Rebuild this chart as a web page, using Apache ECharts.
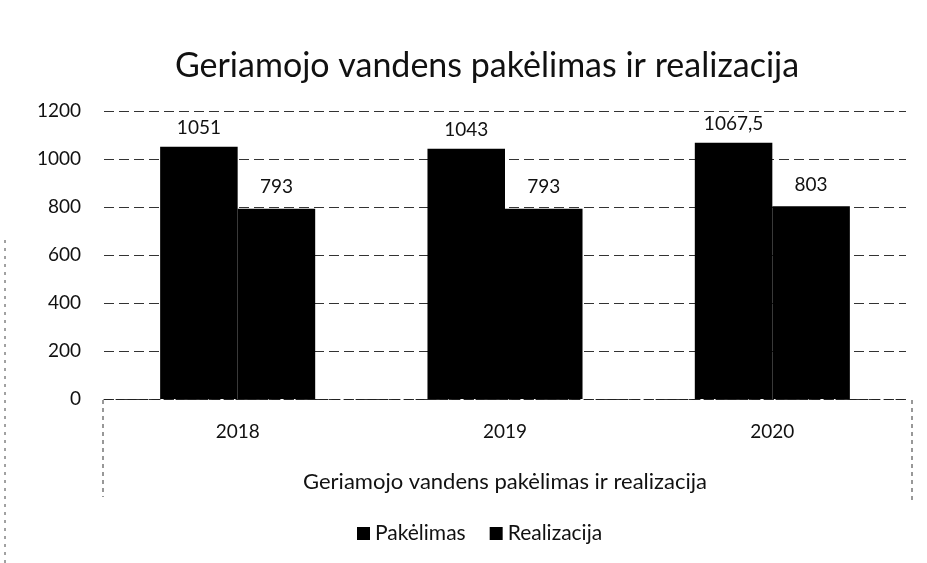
<!DOCTYPE html>
<html>
<head>
<meta charset="utf-8">
<script src="https://cdn.jsdelivr.net/npm/echarts@6/dist/echarts.min.js"></script>
<style>
  html, body { margin: 0; padding: 0; background: #fff; }
  #main { width: 927px; height: 563px; }
</style>
</head>
<body>
<div id="main"></div>
<script>
// 数据
var years = ['2018', '2019', '2020'];
var pakelimas = [1051, 1043, 1067.5];
var realizacija = [793, 793, 803];
var seriesNames = ['Pakėlimas', 'Realizacija'];

var FONT = 'Lato, "Open Sans", sans-serif';

// 标签：小数用逗号
function fmtLabel(p) {
  return String(p.value).replace('.', ',');
}

var myChart = echarts.init(document.getElementById('main'));
var option = {
  backgroundColor: '#fff',
  animation: false,
  title: {
    text: 'Geriamojo vandens pakėlimas ir realizacija',
    left: 482,
    textAlign: 'center',
    top: 44,
    textStyle: { fontFamily: FONT, fontSize: 34, fontWeight: 'normal', color: '#111' }
  },
  legend: {
    data: seriesNames,
    top: 518,
    left: 352,
    icon: 'rect',
    itemWidth: 13,
    itemHeight: 13,
    itemGap: 24,
    textStyle: { fontFamily: FONT, fontSize: 21, color: '#111' }
  },
  // 虚线框（扫描件里的边框）
  graphic: [
    { type: 'line', shape: { x1: 103, y1: 400, x2: 103, y2: 497 },
      style: { stroke: '#333', lineWidth: 1, lineDash: [4, 4] } },
    { type: 'line', shape: { x1: 912, y1: 400, x2: 912, y2: 500 },
      style: { stroke: '#333', lineWidth: 1, lineDash: [4, 4] } },
    { type: 'line', shape: { x1: 5, y1: 240, x2: 5, y2: 563 },
      style: { stroke: '#444', lineWidth: 1, lineDash: [3, 5] } }
  ],
  grid: { left: 104, right: 21, top: 111, bottom: 164 },
  xAxis: {
    type: 'category',
    data: years,
    name: 'Geriamojo vandens pakėlimas ir realizacija',
    nameLocation: 'middle',
    nameGap: 72,
    nameTextStyle: { fontFamily: FONT, fontSize: 22, color: '#111' },
    axisLine: { show: true, lineStyle: { color: '#222', type: [8, 4] } },
    axisTick: { show: false },
    axisLabel: { margin: 23, fontFamily: FONT, fontSize: 19, color: '#111' }
  },
  yAxis: {
    type: 'value',
    min: 0,
    max: 1200,
    interval: 200,
    axisLine: { show: false },
    axisTick: { show: false },
    axisLabel: { margin: 23, fontFamily: FONT, fontSize: 19, color: '#111',
                 formatter: function (v) { return String(v); } },
    splitLine: { lineStyle: { color: '#333', type: [10, 5] } }
  },
  series: [
    {
      name: seriesNames[0],
      type: 'bar',
      data: pakelimas,
      barGap: '0%',
      barCategoryGap: '42%',
      itemStyle: { color: '#000' },
      label: { show: true, position: 'top', distance: 9, formatter: fmtLabel,
               fontFamily: FONT, fontSize: 19, color: '#111' }
    },
    {
      name: seriesNames[1],
      type: 'bar',
      data: realizacija,
      itemStyle: { color: '#000' },
      label: { show: true, position: 'top', distance: 12, formatter: fmtLabel,
               fontFamily: FONT, fontSize: 19, color: '#111' }
    }
  ]
};
myChart.setOption(option);
</script>
</body>
</html>
